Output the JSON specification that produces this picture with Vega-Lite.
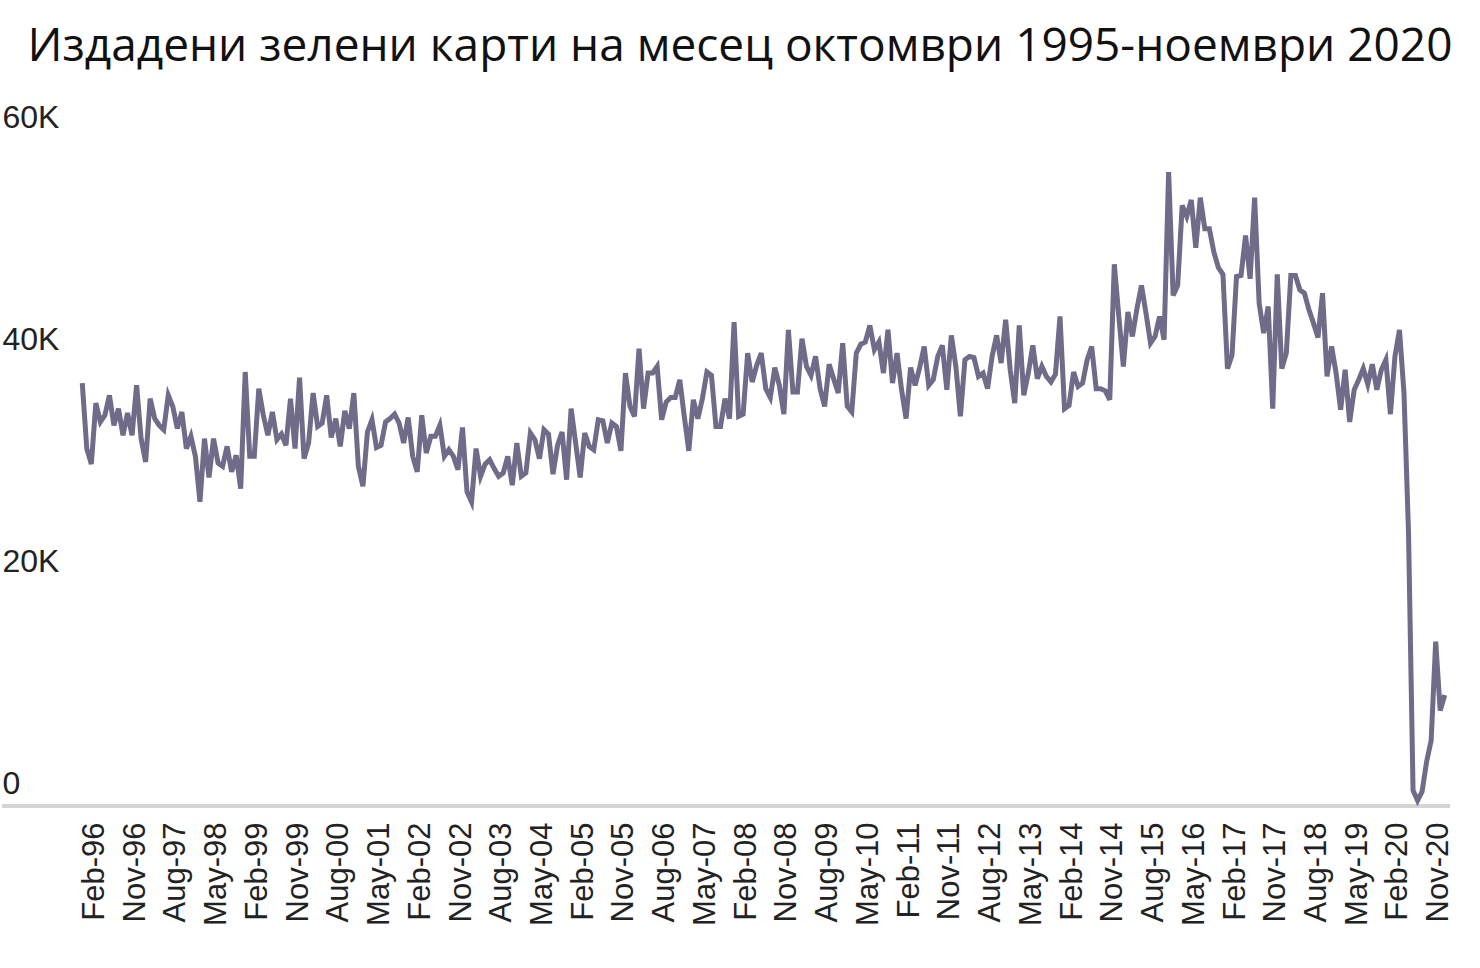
{
  "$schema": "https://vega.github.io/schema/vega-lite/v6.json",
  "width": 1448,
  "height": 666,
  "autosize": "none",
  "padding": {"left": 2, "top": 140, "right": 30, "bottom": 162},
  "background": "white",
  "title": {
    "text": "Издадени зелени карти на месец октомври 1995-ноември 2020",
    "font": "Open Sans",
    "fontSize": 46,
    "fontWeight": "normal",
    "color": "#111111",
    "anchor": "middle",
    "baseline": "alphabetic",
    "offset": 42,
    "dx": 14,
    "dy": 48
  },
  "config": {
    "view": {"stroke": null},
    "axisY": {
      "domain": false, "ticks": false, "grid": false,
      "labelAlign": "left", "labelBaseline": "middle", "labelPadding": 0, "labelOffset": -23,
      "labelFont": "Liberation Sans", "labelFontSize": 32, "labelColor": "#222222", "title": null
    },
    "axisX": {
      "domain": false, "ticks": false, "grid": false,
      "labelAngle": -90, "labelFont": "Liberation Sans", "labelFontSize": 31, "labelOffset": -6,
      "labelColor": "#222222", "labelPadding": 16, "title": null
    }
  },
  "data": {"values": [
    {"m":"Oct-95","v":38.1},{"m":"Nov-95","v":32.2},{"m":"Dec-95","v":30.8},
    {"m":"Jan-96","v":36.3},{"m":"Feb-96","v":34.6},{"m":"Mar-96","v":35.2},{"m":"Apr-96","v":37.0},{"m":"May-96","v":34.3},{"m":"Jun-96","v":35.8},{"m":"Jul-96","v":33.4},{"m":"Aug-96","v":35.4},{"m":"Sep-96","v":33.4},{"m":"Oct-96","v":37.9},{"m":"Nov-96","v":33.1},{"m":"Dec-96","v":31.0},
    {"m":"Jan-97","v":36.7},{"m":"Feb-97","v":34.9},{"m":"Mar-97","v":34.3},{"m":"Apr-97","v":33.9},{"m":"May-97","v":37.0},{"m":"Jun-97","v":36.0},{"m":"Jul-97","v":34.0},{"m":"Aug-97","v":35.5},{"m":"Sep-97","v":32.2},{"m":"Oct-97","v":33.3},{"m":"Nov-97","v":31.5},{"m":"Dec-97","v":27.4},
    {"m":"Jan-98","v":33.1},{"m":"Feb-98","v":29.6},{"m":"Mar-98","v":33.1},{"m":"Apr-98","v":30.9},{"m":"May-98","v":30.6},{"m":"Jun-98","v":32.4},{"m":"Jul-98","v":30.1},{"m":"Aug-98","v":31.6},{"m":"Sep-98","v":28.6},{"m":"Oct-98","v":39.1},{"m":"Nov-98","v":31.5},{"m":"Dec-98","v":31.5},
    {"m":"Jan-99","v":37.6},{"m":"Feb-99","v":35.2},{"m":"Mar-99","v":33.4},{"m":"Apr-99","v":35.5},{"m":"May-99","v":33.0},{"m":"Jun-99","v":33.5},{"m":"Jul-99","v":32.5},{"m":"Aug-99","v":36.7},{"m":"Sep-99","v":32.2},{"m":"Oct-99","v":38.6},{"m":"Nov-99","v":31.3},{"m":"Dec-99","v":32.7},
    {"m":"Jan-00","v":37.2},{"m":"Feb-00","v":34.2},{"m":"Mar-00","v":34.5},{"m":"Apr-00","v":37.0},{"m":"May-00","v":33.2},{"m":"Jun-00","v":34.9},{"m":"Jul-00","v":32.4},{"m":"Aug-00","v":35.6},{"m":"Sep-00","v":34.0},{"m":"Oct-00","v":37.2},{"m":"Nov-00","v":30.6},{"m":"Dec-00","v":28.8},
    {"m":"Jan-01","v":33.7},{"m":"Feb-01","v":34.8},{"m":"Mar-01","v":32.3},{"m":"Apr-01","v":32.5},{"m":"May-01","v":34.6},{"m":"Jun-01","v":34.9},{"m":"Jul-01","v":35.3},{"m":"Aug-01","v":34.5},{"m":"Sep-01","v":32.7},{"m":"Oct-01","v":35.0},{"m":"Nov-01","v":31.5},{"m":"Dec-01","v":30.1},
    {"m":"Jan-02","v":35.2},{"m":"Feb-02","v":31.8},{"m":"Mar-02","v":33.3},{"m":"Apr-02","v":33.3},{"m":"May-02","v":34.3},{"m":"Jun-02","v":31.5},{"m":"Jul-02","v":32.1},{"m":"Aug-02","v":31.5},{"m":"Sep-02","v":30.3},{"m":"Oct-02","v":34.1},{"m":"Nov-02","v":28.3},{"m":"Dec-02","v":27.4},
    {"m":"Jan-03","v":32.2},{"m":"Feb-03","v":29.7},{"m":"Mar-03","v":30.8},{"m":"Apr-03","v":31.2},{"m":"May-03","v":30.4},{"m":"Jun-03","v":29.7},{"m":"Jul-03","v":30.0},{"m":"Aug-03","v":31.5},{"m":"Sep-03","v":28.9},{"m":"Oct-03","v":32.7},{"m":"Nov-03","v":29.7},{"m":"Dec-03","v":30.0},
    {"m":"Jan-04","v":33.6},{"m":"Feb-04","v":33.0},{"m":"Mar-04","v":31.3},{"m":"Apr-04","v":33.9},{"m":"May-04","v":33.5},{"m":"Jun-04","v":29.9},{"m":"Jul-04","v":32.5},{"m":"Aug-04","v":33.7},{"m":"Sep-04","v":29.4},{"m":"Oct-04","v":35.8},{"m":"Nov-04","v":32.7},{"m":"Dec-04","v":29.6},
    {"m":"Jan-05","v":33.6},{"m":"Feb-05","v":32.4},{"m":"Mar-05","v":32.1},{"m":"Apr-05","v":34.8},{"m":"May-05","v":34.7},{"m":"Jun-05","v":32.7},{"m":"Jul-05","v":34.5},{"m":"Aug-05","v":34.2},{"m":"Sep-05","v":32.0},{"m":"Oct-05","v":39.0},{"m":"Nov-05","v":36.0},{"m":"Dec-05","v":35.1},
    {"m":"Jan-06","v":41.2},{"m":"Feb-06","v":35.8},{"m":"Mar-06","v":39.0},{"m":"Apr-06","v":39.0},{"m":"May-06","v":39.6},{"m":"Jun-06","v":34.8},{"m":"Jul-06","v":36.4},{"m":"Aug-06","v":36.8},{"m":"Sep-06","v":36.8},{"m":"Oct-06","v":38.4},{"m":"Nov-06","v":35.1},{"m":"Dec-06","v":32.0},
    {"m":"Jan-07","v":36.6},{"m":"Feb-07","v":34.9},{"m":"Mar-07","v":36.7},{"m":"Apr-07","v":39.1},{"m":"May-07","v":38.8},{"m":"Jun-07","v":34.2},{"m":"Jul-07","v":34.2},{"m":"Aug-07","v":36.7},{"m":"Sep-07","v":34.9},{"m":"Oct-07","v":43.6},{"m":"Nov-07","v":35.1},{"m":"Dec-07","v":35.3},
    {"m":"Jan-08","v":40.8},{"m":"Feb-08","v":38.2},{"m":"Mar-08","v":39.7},{"m":"Apr-08","v":40.8},{"m":"May-08","v":37.6},{"m":"Jun-08","v":36.8},{"m":"Jul-08","v":39.5},{"m":"Aug-08","v":37.9},{"m":"Sep-08","v":35.3},{"m":"Oct-08","v":42.9},{"m":"Nov-08","v":37.3},{"m":"Dec-08","v":37.3},
    {"m":"Jan-09","v":42.1},{"m":"Feb-09","v":39.6},{"m":"Mar-09","v":38.8},{"m":"Apr-09","v":40.5},{"m":"May-09","v":37.6},{"m":"Jun-09","v":36.0},{"m":"Jul-09","v":39.8},{"m":"Aug-09","v":38.5},{"m":"Sep-09","v":37.2},{"m":"Oct-09","v":41.7},{"m":"Nov-09","v":36.0},{"m":"Dec-09","v":35.5},
    {"m":"Jan-10","v":40.8},{"m":"Feb-10","v":41.6},{"m":"Mar-10","v":41.8},{"m":"Apr-10","v":43.3},{"m":"May-10","v":41.1},{"m":"Jun-10","v":41.8},{"m":"Jul-10","v":39.0},{"m":"Aug-10","v":42.9},{"m":"Sep-10","v":38.1},{"m":"Oct-10","v":40.8},{"m":"Nov-10","v":37.5},{"m":"Dec-10","v":34.9},
    {"m":"Jan-11","v":39.5},{"m":"Feb-11","v":37.9},{"m":"Mar-11","v":39.5},{"m":"Apr-11","v":41.4},{"m":"May-11","v":37.9},{"m":"Jun-11","v":38.4},{"m":"Jul-11","v":40.5},{"m":"Aug-11","v":41.5},{"m":"Sep-11","v":37.5},{"m":"Oct-11","v":42.4},{"m":"Nov-11","v":39.6},{"m":"Dec-11","v":35.1},
    {"m":"Jan-12","v":40.2},{"m":"Feb-12","v":40.5},{"m":"Mar-12","v":40.4},{"m":"Apr-12","v":38.7},{"m":"May-12","v":39.0},{"m":"Jun-12","v":37.6},{"m":"Jul-12","v":40.5},{"m":"Aug-12","v":42.4},{"m":"Sep-12","v":39.9},{"m":"Oct-12","v":43.8},{"m":"Nov-12","v":39.3},{"m":"Dec-12","v":36.3},
    {"m":"Jan-13","v":43.3},{"m":"Feb-13","v":37.0},{"m":"Mar-13","v":39.0},{"m":"Apr-13","v":41.5},{"m":"May-13","v":38.5},{"m":"Jun-13","v":39.6},{"m":"Jul-13","v":38.7},{"m":"Aug-13","v":38.2},{"m":"Sep-13","v":38.9},{"m":"Oct-13","v":44.1},{"m":"Nov-13","v":35.8},{"m":"Dec-13","v":36.1},
    {"m":"Jan-14","v":39.1},{"m":"Feb-14","v":37.8},{"m":"Mar-14","v":38.1},{"m":"Apr-14","v":40.2},{"m":"May-14","v":41.4},{"m":"Jun-14","v":37.6},{"m":"Jul-14","v":37.6},{"m":"Aug-14","v":37.4},{"m":"Sep-14","v":36.6},{"m":"Oct-14","v":48.8},{"m":"Nov-14","v":44.1},{"m":"Dec-14","v":39.6},
    {"m":"Jan-15","v":44.5},{"m":"Feb-15","v":42.3},{"m":"Mar-15","v":44.8},{"m":"Apr-15","v":46.9},{"m":"May-15","v":44.4},{"m":"Jun-15","v":41.7},{"m":"Jul-15","v":42.3},{"m":"Aug-15","v":44.1},{"m":"Sep-15","v":42.0},{"m":"Oct-15","v":57.1},{"m":"Nov-15","v":46.0},{"m":"Dec-15","v":46.9},
    {"m":"Jan-16","v":54.1},{"m":"Feb-16","v":53.1},{"m":"Mar-16","v":54.6},{"m":"Apr-16","v":50.3},{"m":"May-16","v":54.8},{"m":"Jun-16","v":52.0},{"m":"Jul-16","v":52.0},{"m":"Aug-16","v":49.9},{"m":"Sep-16","v":48.5},{"m":"Oct-16","v":47.9},{"m":"Nov-16","v":39.4},{"m":"Dec-16","v":40.6},
    {"m":"Jan-17","v":47.7},{"m":"Feb-17","v":47.8},{"m":"Mar-17","v":51.4},{"m":"Apr-17","v":47.5},{"m":"May-17","v":54.8},{"m":"Jun-17","v":45.3},{"m":"Jul-17","v":42.6},{"m":"Aug-17","v":45.0},{"m":"Sep-17","v":35.8},{"m":"Oct-17","v":47.9},{"m":"Nov-17","v":39.4},{"m":"Dec-17","v":40.8},
    {"m":"Jan-18","v":47.8},{"m":"Feb-18","v":47.8},{"m":"Mar-18","v":46.5},{"m":"Apr-18","v":46.2},{"m":"May-18","v":44.7},{"m":"Jun-18","v":43.5},{"m":"Jul-18","v":42.2},{"m":"Aug-18","v":46.2},{"m":"Sep-18","v":38.7},{"m":"Oct-18","v":41.4},{"m":"Nov-18","v":39.0},{"m":"Dec-18","v":35.7},
    {"m":"Jan-19","v":39.3},{"m":"Feb-19","v":34.6},{"m":"Mar-19","v":37.5},{"m":"Apr-19","v":38.4},{"m":"May-19","v":39.4},{"m":"Jun-19","v":38.0},{"m":"Jul-19","v":39.8},{"m":"Aug-19","v":37.5},{"m":"Sep-19","v":39.3},{"m":"Oct-19","v":40.2},{"m":"Nov-19","v":35.3},{"m":"Dec-19","v":40.5},
    {"m":"Jan-20","v":42.9},{"m":"Feb-20","v":37.2},{"m":"Mar-20","v":24.6},{"m":"Apr-20","v":1.4},{"m":"May-20","v":0.5},{"m":"Jun-20","v":1.3},{"m":"Jul-20","v":4.0},{"m":"Aug-20","v":5.9},{"m":"Sep-20","v":14.8},{"m":"Oct-20","v":8.6},{"m":"Nov-20","v":10.0}
  ]},
  "layer": [
    {
      "mark": {"type": "rule", "color": "#d4d4d4", "strokeWidth": 2.5},
      "encoding": {
        "y": {"datum": 0, "type": "quantitative", "scale": {"domain": [0, 60], "nice": false},
              "axis": {"values": [0, 20, 40, 60], "labelExpr": "datum.value == 0 ? '0' : datum.value + 'K'"}}
      }
    },
    {
      "mark": {"type": "line", "color": "#6f6b88", "strokeWidth": 5},
      "encoding": {
        "x": {"field": "m", "type": "ordinal", "sort": null,
              "scale": {"type": "point", "range": [78, 1445]},
              "axis": {"values": ["Feb-96","Nov-96","Aug-97","May-98","Feb-99","Nov-99","Aug-00","May-01","Feb-02","Nov-02","Aug-03","May-04","Feb-05","Nov-05","Aug-06","May-07","Feb-08","Nov-08","Aug-09","May-10","Feb-11","Nov-11","Aug-12","May-13","Feb-14","Nov-14","Aug-15","May-16","Feb-17","Nov-17","Aug-18","May-19","Feb-20","Nov-20"]}},
        "y": {"field": "v", "type": "quantitative", "scale": {"domain": [0, 60], "nice": false},
              "axis": {"values": [0, 20, 40, 60], "labelExpr": "datum.value == 0 ? '0' : datum.value + 'K'"}}
      }
    }
  ]
}
